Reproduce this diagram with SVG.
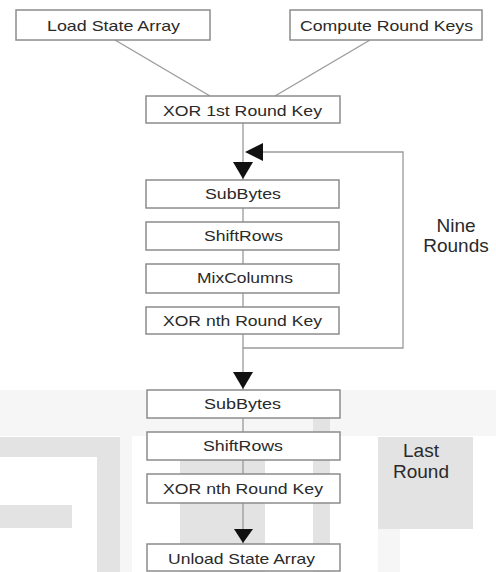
<svg xmlns="http://www.w3.org/2000/svg" width="496" height="572" viewBox="0 0 496 572">
<style>
.box{fill:#fff;stroke:#8c8c8c;stroke-width:1.5}
.t{font-family:"Liberation Sans",Arial,sans-serif;font-size:14.5px;fill:#2a2a2a;text-anchor:middle}
.big{font-family:"Liberation Sans",Arial,sans-serif;font-size:19px;fill:#2a2a2a;text-anchor:middle}
.ln{stroke:#9a9a9a;stroke-width:1.3;fill:none}
.ah{fill:#111}
.wm{fill:#e3e3e3}
.wl{fill:#f6f6f6}
</style>
<rect width="496" height="572" fill="#fff"/>
<g id="watermark">
<rect class="wl" x="0" y="390" width="496" height="46"/>
<rect class="wm" x="0" y="437" width="112" height="20"/>
<rect class="wm" x="97" y="437" width="30" height="135"/>
<rect class="wl" x="120" y="392" width="12" height="180"/>
<rect class="wm" x="0" y="505" width="72" height="23"/>
<rect class="wm" x="180" y="437" width="85" height="135"/>
<rect class="wm" x="302" y="395" width="28" height="17"/>
<rect class="wm" x="313" y="412" width="17" height="160"/>
<rect class="wm" x="378" y="437" width="95" height="92"/>
<rect class="wl" x="378" y="529" width="22" height="43"/>
</g>
<g id="connectors">
<line class="ln" x1="115" y1="40" x2="210" y2="96"/>
<line class="ln" x1="370" y1="40" x2="275" y2="96"/>
<line class="ln" x1="243" y1="123" x2="243" y2="180"/>
<line class="ln" x1="243" y1="208" x2="243" y2="307"/>
<polyline class="ln" points="243,334 243,348 403,348 403,152 262,152"/>
<line class="ln" x1="243" y1="348" x2="243" y2="390"/>
<line class="ln" x1="243" y1="418" x2="243" y2="474"/>
<line class="ln" x1="243" y1="503" x2="243" y2="544"/>
<polygon class="ah" points="245,152 263,143 263,161"/>
<polygon class="ah" points="233,162 253,162 243,179"/>
<polygon class="ah" points="233,372 253,372 243,389"/>
<polygon class="ah" points="234,529 253,529 243,543"/>
</g>
<g id="load"><rect class="box" x="16" y="10" width="194" height="30"/><text class="t" x="113.5" y="31" textLength="133" lengthAdjust="spacingAndGlyphs">Load State Array</text></g>
<g id="compute"><rect class="box" x="290" y="10" width="192" height="30"/><text class="t" x="386.5" y="31" textLength="173" lengthAdjust="spacingAndGlyphs">Compute Round Keys</text></g>
<g id="xor1"><rect class="box" x="146" y="96" width="194" height="27"/><text class="t" x="242.5" y="116" textLength="159" lengthAdjust="spacingAndGlyphs">XOR 1st Round Key</text></g>
<g id="subbytes1"><rect class="box" x="146" y="180" width="193" height="28"/><text class="t" x="243" y="199" textLength="76" lengthAdjust="spacingAndGlyphs">SubBytes</text></g>
<g id="shiftrows1"><rect class="box" x="146" y="222" width="193" height="28"/><text class="t" x="243.5" y="241" textLength="79" lengthAdjust="spacingAndGlyphs">ShiftRows</text></g>
<g id="mixcolumns"><rect class="box" x="146" y="264" width="193" height="29"/><text class="t" x="245" y="283" textLength="96" lengthAdjust="spacingAndGlyphs">MixColumns</text></g>
<g id="xornth1"><rect class="box" x="146" y="307" width="193" height="27"/><text class="t" x="242.5" y="326" textLength="159" lengthAdjust="spacingAndGlyphs">XOR nth Round Key</text></g>
<g id="subbytes2"><rect class="box" x="147" y="390" width="193" height="28"/><text class="t" x="242.5" y="409" textLength="77" lengthAdjust="spacingAndGlyphs">SubBytes</text></g>
<g id="shiftrows2"><rect class="box" x="147" y="432" width="193" height="28"/><text class="t" x="243" y="451" textLength="80" lengthAdjust="spacingAndGlyphs">ShiftRows</text></g>
<g id="xornth2"><rect class="box" x="147" y="474" width="193" height="29"/><text class="t" x="243" y="494" textLength="160" lengthAdjust="spacingAndGlyphs">XOR nth Round Key</text></g>
<g id="unload"><rect class="box" x="147" y="544" width="193" height="27"/><text class="t" x="241.5" y="564" textLength="147" lengthAdjust="spacingAndGlyphs">Unload State Array</text></g>
<g id="nine"><text class="big" x="456" y="232">Nine</text><text class="big" x="456" y="252">Rounds</text></g>
<g id="last"><text class="big" x="421" y="457">Last</text><text class="big" x="421" y="478">Round</text></g>
</svg>
